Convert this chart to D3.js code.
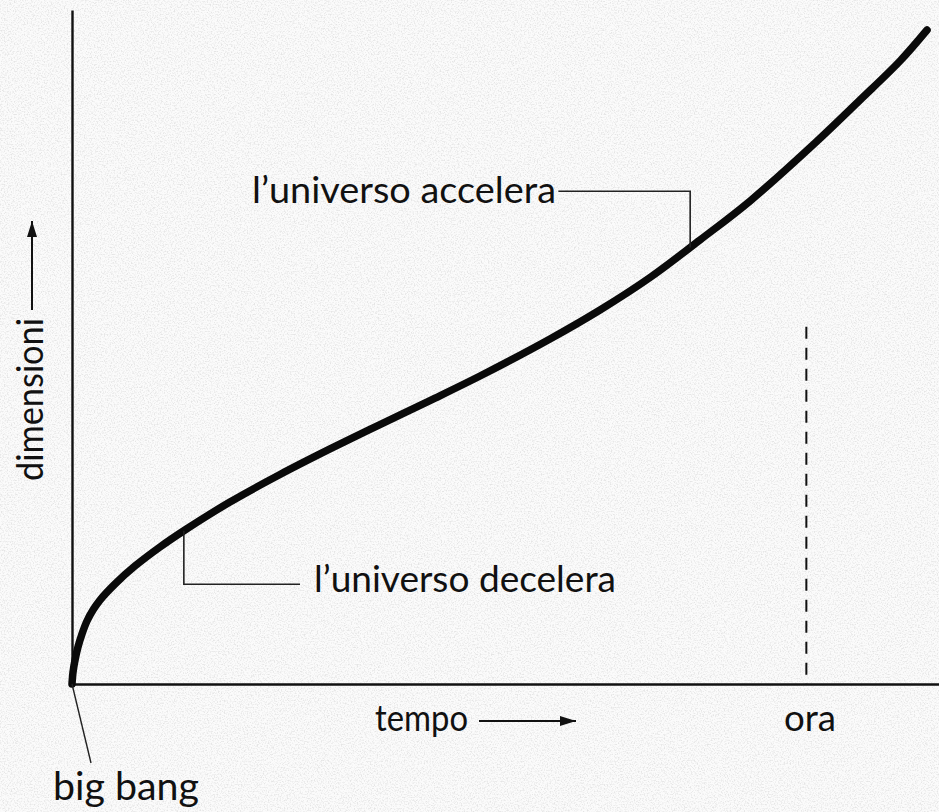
<!DOCTYPE html>
<html lang="it">
<head>
<meta charset="utf-8">
<title>Espansione dell'universo</title>
<script src="https://cdn.jsdelivr.net/npm/d3@7/dist/d3.min.js"></script>
<style>
  html, body { margin: 0; padding: 0; background: #fbfbfb; }
  svg { display: block; }
  text { font-family: Lato, "Noto Sans", sans-serif; fill: #111; }
</style>
</head>
<body>
<svg id="chart" width="939" height="812"></svg>
<script>
// Curve: size of the universe against time (arbitrary units, 0-100)
const tempo = [0, 0.12, 0.35, 0.69, 1.15, 1.73, 2.42, 3.23, 4.96, 7.27, 10.15, 13.03, 18.22,
  23.99, 29.76, 35.52, 41.29, 47.06, 55.13, 60.9, 66.67, 72.43, 78.2, 85.7, 90.89, 95.5, 98.62];
const dimensioni = [0, 1.78, 3.56, 5.49, 7.42, 9.35, 10.98, 12.46, 14.84, 17.51, 20.33, 22.85, 27.0,
  31.08, 34.87, 38.5, 42.06, 45.7, 51.19, 55.49, 60.31, 65.88, 71.66, 80.27, 86.65, 92.43, 97.03];

// The present moment ("ora") on the time axis and the height of its marker
const oraTempo = 84.7;
const oraAltezza = 53.0;

// Callout annotations: anchor time on the curve, elbow height, end time of the horizontal run
const callouts = [
  { label: "l\u2019universo accelera", anchor: 71.3, elbow: 73.1, end: 56.1 },
  { label: "l\u2019universo decelera", anchor: 12.9, elbow: 14.8, end: 26.3 }
];

const axisLabels = { x: "tempo", y: "dimensioni", now: "ora", origin: "big bang" };

const W = 939, H = 812;
const svg = d3.select("#chart");

// paper grain
const defs = svg.append("defs");
const grain = defs.append("filter").attr("id", "grain")
  .attr("x", 0).attr("y", 0).attr("width", "100%").attr("height", "100%");
grain.append("feTurbulence").attr("type", "fractalNoise")
  .attr("baseFrequency", 0.7).attr("numOctaves", 2).attr("seed", 7).attr("result", "n");
grain.append("feColorMatrix").attr("type", "matrix")
  .attr("values", "0 0 0 0 0.6  0 0 0 0 0.6  0 0 0 0 0.6  3.2 0 0 0 -1.45");
svg.append("rect").attr("width", W).attr("height", H).attr("filter", "url(#grain)").attr("opacity", 0.45);

const x = d3.scaleLinear().domain([0, 100]).range([72, 939]);
const y = d3.scaleLinear().domain([0, 100]).range([684, 10]);

// axes without ticks
svg.append("g").attr("transform", `translate(0,${y(0)})`)
  .call(d3.axisBottom(x).tickValues([]).tickSizeOuter(0))
  .call(g => g.select(".domain").attr("stroke", "#111").attr("stroke-width", 2.6));
svg.append("g").attr("transform", `translate(${x(0)},0)`)
  .call(d3.axisLeft(y).tickValues([]).tickSizeOuter(0))
  .call(g => g.select(".domain").attr("stroke", "#111").attr("stroke-width", 2.4));

// "now" marker
svg.append("line")
  .attr("x1", x(oraTempo)).attr("x2", x(oraTempo))
  .attr("y1", y(oraAltezza)).attr("y2", y(0))
  .attr("stroke", "#111").attr("stroke-width", 2)
  .attr("stroke-dasharray", "12,9");

// the expansion curve
const pts = tempo.map((t, i) => [t, dimensioni[i]]);
const line = d3.line().x(d => x(d[0])).y(d => y(d[1])).curve(d3.curveCatmullRom.alpha(0.5));
const curve = svg.append("path").datum(pts)
  .attr("d", line)
  .attr("fill", "none").attr("stroke", "#0a0a0a")
  .attr("stroke-width", 7.5).attr("stroke-linecap", "round");

// point on the drawn curve at a given time
const node = curve.node();
const total = node.getTotalLength();
function curveYAt(t) {
  const px = x(t);
  let lo = 0, hi = total;
  for (let k = 0; k < 40; k++) {
    const mid = (lo + hi) / 2;
    if (node.getPointAtLength(mid).x < px) lo = mid; else hi = mid;
  }
  return node.getPointAtLength((lo + hi) / 2).y;
}

// callouts
callouts.forEach(c => {
  const ay = curveYAt(c.anchor);
  svg.append("path")
    .attr("d", `M${x(c.anchor)},${ay}V${y(c.elbow)}H${x(c.end)}`)
    .attr("fill", "none").attr("stroke", "#222").attr("stroke-width", 1.6);
});
svg.append("text").text(callouts[0].label)
  .attr("x", 252).attr("y", 203).attr("font-size", 36)
  .attr("textLength", 304).attr("lengthAdjust", "spacingAndGlyphs");
svg.append("text").text(callouts[1].label)
  .attr("x", 314).attr("y", 592).attr("font-size", 36)
  .attr("textLength", 302).attr("lengthAdjust", "spacingAndGlyphs");

// big bang pointer
svg.append("line")
  .attr("x1", x(0)).attr("y1", y(0))
  .attr("x2", 91).attr("y2", 763)
  .attr("stroke", "#222").attr("stroke-width", 1.4);
svg.append("text").text(axisLabels.origin)
  .attr("x", 53).attr("y", 800).attr("font-size", 38)
  .attr("textLength", 146).attr("lengthAdjust", "spacingAndGlyphs");

// arrows for the axis titles
defs.append("marker").attr("id", "head")
  .attr("viewBox", "0 0 16 10").attr("refX", 16).attr("refY", 5)
  .attr("markerWidth", 16).attr("markerHeight", 10)
  .attr("markerUnits", "userSpaceOnUse").attr("orient", "auto")
  .append("path").attr("d", "M0,0L16,5L0,10Z").attr("fill", "#111");

svg.append("text").text(axisLabels.x)
  .attr("x", 375).attr("y", 731).attr("font-size", 36)
  .attr("textLength", 93).attr("lengthAdjust", "spacingAndGlyphs");
svg.append("line")
  .attr("x1", 479).attr("y1", 721).attr("x2", 576).attr("y2", 721)
  .attr("stroke", "#111").attr("stroke-width", 2).attr("marker-end", "url(#head)");

svg.append("text").text(axisLabels.now)
  .attr("x", 810).attr("y", 731).attr("font-size", 36).attr("text-anchor", "middle")
  .attr("textLength", 52).attr("lengthAdjust", "spacingAndGlyphs");

svg.append("text").text(axisLabels.y)
  .attr("transform", "translate(43,481) rotate(-90)")
  .attr("font-size", 36)
  .attr("textLength", 163).attr("lengthAdjust", "spacingAndGlyphs");
svg.append("line")
  .attr("x1", 32).attr("y1", 310).attr("x2", 32).attr("y2", 221)
  .attr("stroke", "#111").attr("stroke-width", 2).attr("marker-end", "url(#head)");
</script>
</body>
</html>
